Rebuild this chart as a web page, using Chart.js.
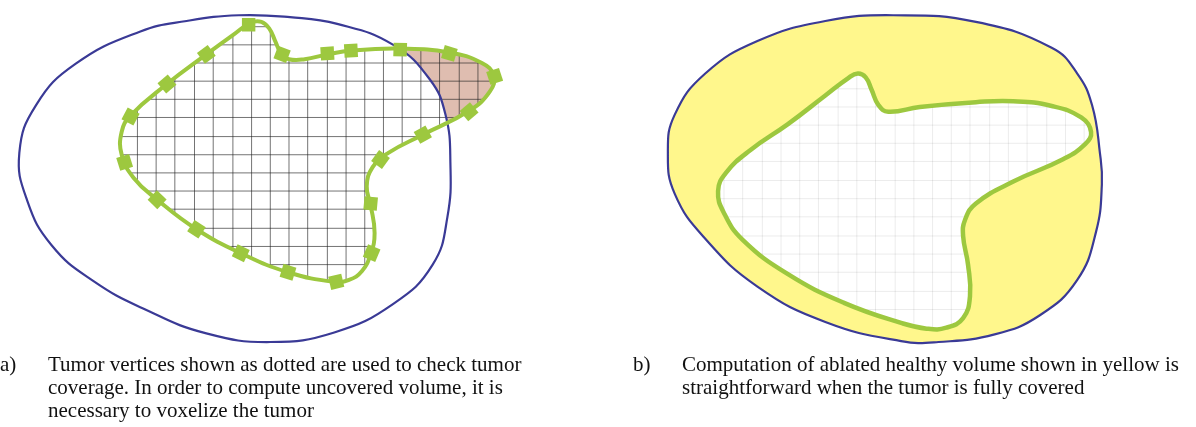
<!DOCTYPE html>
<html>
<head>
<meta charset="utf-8">
<script src="https://cdn.jsdelivr.net/npm/chart.js"></script>
<style>
  body { margin: 0; background: #fff; }
  #wrap { position: relative; width: 1196px; height: 427px; overflow: hidden; }
  #fig { position: absolute; left: 0; top: 0; }
  .cap { position: absolute; font-family: 'Liberation Serif', 'Times New Roman', serif;
         font-size: 21px; line-height: 23px; color: #111; white-space: nowrap; }
</style>
</head>
<body>
<div id="wrap">
  <canvas id="fig" width="1196" height="427"></canvas>
</div>
<script>
// Outlines, as [x, y] in picture units (y grows downward).
// Each outline is a closed loop, the last point joins back to the first.

// a) ablation zone
var leftZone = [
	[233,6],[285,8],[333,15],[390,37],[427,73],[443,110],[448,160],[445,217],[430,267],
	[390,308],[330,338],[265,348],[200,339],[138,314],[85,284],[43,247],[18,200],
	[10,150],[27,100],[67,57],[133,23],[180,12]
];
// a) tumor outline
var leftTumor = [
	[200,47],[228,26],[245,14],[256,13],[264,20],[270,33],[276,46],[284,52],[300,52],
	[323,47],[347,43],[397,41],[447,45],[480,56],[492,69],[488,86],[467,106],[420,131],
	[385,150],[369,165],[363,185],[367,205],[371,234],[367,256],[358,274],[345,283],
	[330,285],[283,275],[235,255],[190,230],[150,199],[126,176],[114,152],[114,128],
	[123,111],[160,78]
];
// a) tumor vertices (dotted)
var leftVertices = [
	[243,16],[277,47],[323,46],[347,43],[397,42],[447,46],[493,70],[467,107],[420,131],
	[377,157],[367,203],[368,255],[332,285],[283,275],[235,255],[190,230],[150,199],
	[117,160],[123,112],[160,78],[200,47]
];
// a) voxel grid lines
var leftGridX = [111,130,149,168,188,207,227,246,265,284,303,323,342,361,380,399,418,437,457,476,495];
var leftGridY = [18,37,56,75,94,113,133,152,171,190,209,229,248,267,286];

// b) ablation zone
var rightZone = [
	[898,6],[982,13],[1059,40],[1085,67],[1100,100],[1108,150],[1110,183],[1104,233],
	[1085,283],[1047,320],[1001,340],[944,348],[906,347],[829,327],[760,290],[707,240],
	[676,193],[669,150],[676,110],[707,67],[760,33],[829,12]
];
// b) tumor outline
var rightTumor = [
	[791,120],[829,90],[852,72],[862,67],[870,71],[876,84],[883,100],[893,107],[925,102],
	[982,97],[1020,96],[1059,101],[1089,113],[1099,128],[1093,141],[1070,157],[1020,180],
	[982,203],[971,220],[969,237],[974,267],[976,300],[969,323],[952,333],[932,334],
	[906,328],[848,307],[791,277],[745,241],[726,213],[720,190],[728,171],[753,147]
];
// b) faint grid lines
var rightGridX = [726,745,765,784,803,822,842,861,880,900,919,938,957,976,996,1015,1034,1054,1073,1092];
var rightGridY = [83,102,121,140,159,179,198,217,237,256,275,295,314,333];

// captions
var capLabels = ['a)', 'b)'];
var capLeft = ['Tumor vertices shown as dotted are used to check tumor',
               'coverage. In order to compute uncovered volume, it is',
               'necessary to voxelize the tumor'];
var capRight = ['Computation of ablated healthy volume shown in yellow is',
                'straightforward when the tumor is fully covered'];

var GREEN = '#9dc83f';
var BLUE  = '#3a3a96';
var NONE  = 'rgba(0,0,0,0)';

function xy(list) {
	return list.map(function(p) { return { x: p[0], y: p[1] }; });
}

// closes the smooth line of datasets flagged 'closed' (same as radar lines)
var closedLoop = {
	id: 'closedLoop',
	afterDatasetUpdate: function(chart, args) {
		var ds = chart.data.datasets[args.index];
		if (!ds.closed || !args.meta.dataset) return;
		args.meta.dataset._loop = true;
		args.meta.dataset._fullLoop = true;
		args.meta.dataset._pointsUpdated = false;
	}
};

// draws grid lines clipped to the path of another dataset's line
var voxelGrid = {
	id: 'voxelGrid',
	afterDatasetDraw: function(chart, args) {
		var ds = chart.data.datasets[args.index];
		if (!ds.grid) return;
		var g = ds.grid;
		var el = chart.getDatasetMeta(g.clipTo).dataset;
		var ctx = chart.ctx, area = chart.chartArea;
		var sx = chart.scales.x, sy = chart.scales.y;
		if (el.updateControlPoints) el.updateControlPoints(area, 'x');
		ctx.save();
		ctx.beginPath();
		el.path(ctx);
		ctx.closePath();
		ctx.clip();
		ctx.beginPath();
		g.xs.forEach(function(v) {
			var px = sx.getPixelForValue(v);
			ctx.moveTo(px, area.top); ctx.lineTo(px, area.bottom);
		});
		g.ys.forEach(function(v) {
			var py = sy.getPixelForValue(v);
			ctx.moveTo(area.left, py); ctx.lineTo(area.right, py);
		});
		ctx.strokeStyle = g.color;
		ctx.lineWidth = g.width;
		ctx.stroke();
		ctx.restore();
	}
};

function vertexAngle(c) {
	var n = leftVertices.length, i = c.dataIndex;
	var a = leftVertices[(i - 1 + n) % n], b = leftVertices[(i + 1) % n];
	return Math.atan2(b[1] - a[1], b[0] - a[0]) * 180 / Math.PI;
}

var datasets = [
	// uncovered tumor part (pink), later covered inside the zone
	{ data: xy(leftTumor), closed: true, fill: 'shape', backgroundColor: '#dfbdb0', borderColor: NONE, borderWidth: 1 },
	{ data: xy(leftZone), closed: true, fill: 'shape', backgroundColor: '#ffffff', borderColor: NONE, borderWidth: 1,
	  grid: { clipTo: 0, xs: leftGridX, ys: leftGridY, color: 'rgba(30,30,30,0.62)', width: 1 } },
	{ data: xy(leftZone), closed: true, fill: false, borderColor: BLUE, borderWidth: 2.2 },
	{ data: xy(leftTumor), closed: true, fill: false, borderColor: GREEN, borderWidth: 4 },
	{ data: xy(leftVertices), showLine: false, pointStyle: 'rect', pointRadius: 9.5,
	  pointBackgroundColor: GREEN, pointBorderWidth: 0, pointBorderColor: NONE, rotation: vertexAngle },
	{ data: xy(rightZone), closed: true, fill: 'shape', backgroundColor: '#fff78c', borderColor: BLUE, borderWidth: 2.2 },
	{ data: xy(rightTumor), closed: true, fill: 'shape', backgroundColor: '#ffffff', borderColor: NONE, borderWidth: 1,
	  grid: { clipTo: 6, xs: rightGridX, ys: rightGridY, color: 'rgba(0,0,0,0.08)', width: 1 } },
	{ data: xy(rightTumor), closed: true, fill: false, borderColor: GREEN, borderWidth: 4.5 }
];
// first entry is drawn first
datasets.forEach(function(d, i) { d.order = datasets.length - i; });

new Chart(document.getElementById('fig'), {
	type: 'line',
	data: { datasets: datasets },
	options: {
		responsive: false,
		animation: false,
		devicePixelRatio: 1,
		events: [],
		layout: { padding: 0 },
		elements: { point: { radius: 0 }, line: { tension: 0.45 } },
		plugins: { legend: { display: false }, tooltip: { enabled: false } },
		scales: {
			x: { type: 'linear', min: 0, max: 1196, display: false },
			y: { type: 'linear', min: 0, max: 427, reverse: true, display: false }
		}
	},
	plugins: [closedLoop, voxelGrid]
});

// captions as real text
function addCap(text, left, top) {
	var d = document.createElement('div');
	d.className = 'cap';
	d.style.left = left + 'px';
	d.style.top = top + 'px';
	d.textContent = text;
	document.getElementById('wrap').appendChild(d);
}
addCap(capLabels[0], 0, 353);
capLeft.forEach(function(t, i) { addCap(t, 48, 353 + i * 23); });
addCap(capLabels[1], 633, 353);
capRight.forEach(function(t, i) { addCap(t, 682, 353 + i * 23); });
</script>
</body>
</html>
